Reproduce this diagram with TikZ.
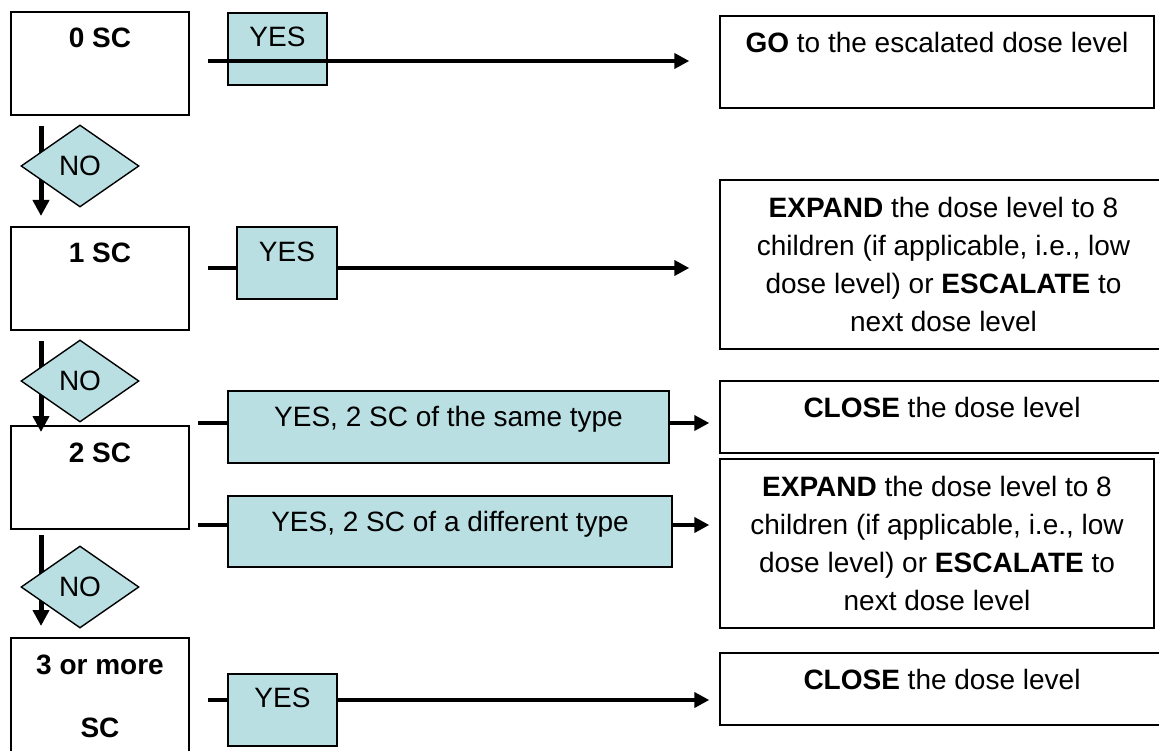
\documentclass[tikz,border=0pt]{standalone}
\usepackage{fontspec}
\setmainfont{Liberation Sans}
\usetikzlibrary{arrows.meta,shapes.geometric}
\definecolor{tealfill}{RGB}{185,223,226}
\newcommand{\dfont}{\fontsize{28}{38}\selectfont}
\begin{document}
\begin{tikzpicture}[x=1pt,y=-1pt,
  box/.style={draw=black, line width=1.4pt, fill=white, rectangle, inner sep=0pt},
  yesbox/.style={box, fill=tealfill},
  nodiamond/.style={draw=black, line width=1.4pt, fill=tealfill, diamond, minimum width=118pt, minimum height=82pt, inner sep=0pt, font=\dfont},
  toplbl/.style={anchor=north, inner sep=0pt, align=center, font=\dfont},
  conn/.style={line width=4.7pt},
  connarrow/.style={line width=4.7pt, -{Triangle[length=15pt,width=15pt]}},
  downarrow/.style={line width=5pt, -{Triangle[length=16pt,width=16pt]}},
]
\useasboundingbox (0,0) rectangle (1159,751);
\clip (0,0) rectangle (1159,751);

% left condition boxes
\node[box, minimum width=178pt, minimum height=103pt,
  label={[toplbl, yshift=-16pt]north:{\textbf{0 SC}}}] (sc0) at (100,63.5) {};
\node[box, minimum width=178pt, minimum height=103pt,
  label={[toplbl, yshift=-16pt]north:{\textbf{1 SC}}}] (sc1) at (100,278.5) {};
\node[box, minimum width=178pt, minimum height=103pt,
  label={[toplbl, yshift=-17pt]north:{\textbf{2 SC}}}] (sc2) at (100,477.5) {};
\node[box, minimum width=178pt, minimum height=130pt,
  label={[toplbl, yshift=-17pt]north:{\textbf{3 or more}\\[25pt]\textbf{SC}}}] (sc3) at (100,703) {};

% down arrows (drawn below the diamonds)
\coordinate (d1a) at (41,126); \coordinate (d1b) at (41,216);
\coordinate (d2a) at (41,341); \coordinate (d2b) at (41,432);
\coordinate (d3a) at (41,535); \coordinate (d3b) at (41,626);
\draw[downarrow] (d1a) -- (d1b);
\draw[downarrow] (d2a) -- (d2b);
\draw[downarrow] (d3a) -- (d3b);

% NO diamonds
\node[nodiamond, aspect=1.44] (no1) at (80,166) {NO};
\node[nodiamond, aspect=1.44] (no2) at (80,381) {NO};
\node[nodiamond, aspect=1.44] (no3) at (80,587) {NO};

% YES boxes
\node[yesbox, minimum width=99pt, minimum height=72pt,
  label={[toplbl, yshift=-14pt]north:{YES}}] (yes1) at (277.5,49) {};
\node[yesbox, minimum width=100pt, minimum height=72pt,
  label={[toplbl, yshift=-15pt]north:{YES}}] (yes2) at (287,263) {};
\node[yesbox, minimum width=441pt, minimum height=72pt,
  label={[toplbl, yshift=-16pt]north:{YES, 2 SC of the same type}}] (same) at (448.5,427) {};
\node[yesbox, minimum width=444pt, minimum height=71pt,
  label={[toplbl, yshift=-16pt]north:{YES, 2 SC of a different type}}] (diff) at (450,531.5) {};
\node[yesbox, minimum width=109pt, minimum height=72pt,
  label={[toplbl, yshift=-14pt]north:{YES}}] (yes4) at (282.5,710) {};

% outcome boxes
\node[box, minimum width=434pt, minimum height=92pt,
  label={[toplbl, yshift=-17pt]north:{\textbf{GO} to the escalated dose level}}] (go) at (937,62) {};
\node[box, minimum width=447pt, minimum height=169pt,
  label={[toplbl, yshift=-18pt]north:{\textbf{EXPAND} the dose level to 8\\children (if applicable, i.e., low\\dose level) or \textbf{ESCALATE} to\\next dose level}}] (exp1) at (943.5,264.5) {};
\node[box, minimum width=444pt, minimum height=72pt,
  label={[toplbl, yshift=-17pt]north:{\textbf{CLOSE} the dose level}}] (close1) at (942,417) {};
\node[box, minimum width=434pt, minimum height=169pt,
  label={[toplbl, yshift=-18pt]north:{\textbf{EXPAND} the dose level to 8\\children (if applicable, i.e., low\\dose level) or \textbf{ESCALATE} to\\next dose level}}] (exp2) at (937,543.5) {};
\node[box, minimum width=444pt, minimum height=72pt,
  label={[toplbl, yshift=-17pt]north:{\textbf{CLOSE} the dose level}}] (close2) at (942,689) {};

% connectors
\coordinate (r1) at (208,61);
\coordinate (r2) at (208,268);
\coordinate (r3) at (198,423);
\coordinate (r4) at (198,525);
\coordinate (r5) at (208,700);

\draw[connarrow, shorten >=30pt] (r1) -- (r1 -| go.west);

\draw[conn] (r2) -- (r2 -| yes2.west);
\draw[connarrow, shorten >=30pt] (r2 -| yes2.east) -- (r2 -| exp1.west);

\draw[conn] (r3) -- (r3 -| same.west);
\draw[connarrow, shorten >=10pt] (r3 -| same.east) -- (r3 -| close1.west);

\draw[conn] (r4) -- (r4 -| diff.west);
\draw[connarrow, shorten >=10pt] (r4 -| diff.east) -- (r4 -| exp2.west);

\draw[conn] (r5) -- (r5 -| yes4.west);
\draw[connarrow, shorten >=10pt] (r5 -| yes4.east) -- (r5 -| close2.west);
\end{tikzpicture}
\end{document}
